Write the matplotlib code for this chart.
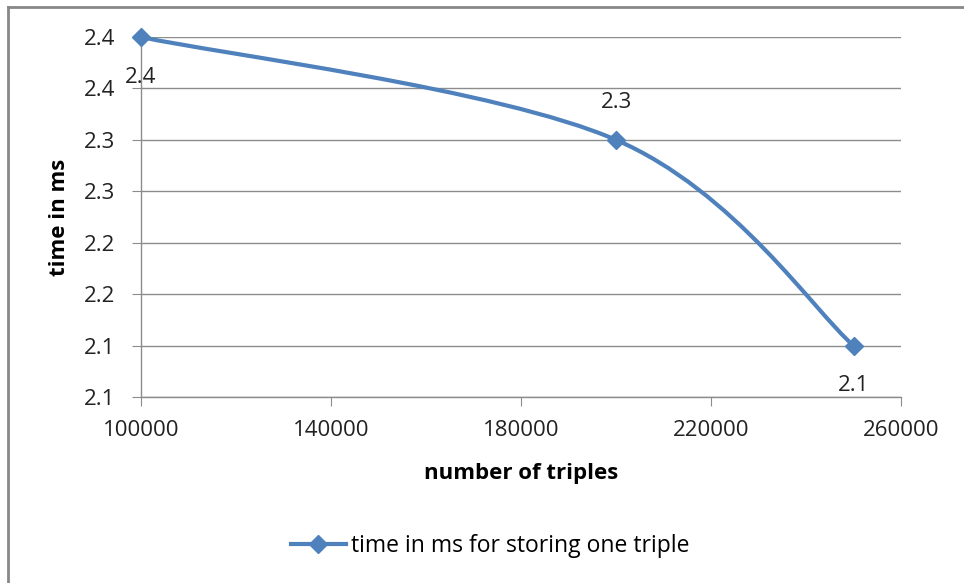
import matplotlib.pyplot as plt
from matplotlib.path import Path
from matplotlib.patches import PathPatch
from matplotlib.lines import Line2D

plt.rcParams['font.family'] = ['Open Sans', 'DejaVu Sans']

# data
triples = [100000, 200000, 250000]
time_ms = [2.4, 2.3, 2.1]
label_pos = ['below', 'above', 'below']

y_ticks = [2.05, 2.1, 2.15, 2.2, 2.25, 2.3, 2.35, 2.4]
y_labels = ['2.1', '2.1', '2.2', '2.2', '2.3', '2.3', '2.4', '2.4']
x_ticks = [100000, 140000, 180000, 220000, 260000]

blue = '#4F81BD'
grid_c = '#8C8C8C'

fig = plt.figure(figsize=(9.64, 5.83), dpi=100)
ax = fig.add_axes([141/964, 1-397/583, 760/964, 360/583])

# smoothed line like excel (bezier, tension 1/6)
pts = list(zip(triples, time_ms))
verts = [pts[0]]
codes = [Path.MOVETO]
n = len(pts)
for i in range(n - 1):
    p0 = pts[max(i-1, 0)]
    p1 = pts[i]
    p2 = pts[i+1]
    p3 = pts[min(i+2, n-1)]
    c1 = (p1[0] + (p2[0]-p0[0])/6, p1[1] + (p2[1]-p0[1])/6)
    c2 = (p2[0] - (p3[0]-p1[0])/6, p2[1] - (p3[1]-p1[1])/6)
    verts += [c1, c2, p2]
    codes += [Path.CURVE4]*3
ax.add_patch(PathPatch(Path(verts, codes), fill=False, edgecolor=blue,
                       lw=3, capstyle='round', zorder=3, clip_on=False))
ax.plot(triples, time_ms, ls='none', marker='D', ms=9.5, color=blue, zorder=4,
        clip_on=False)

for x, y, pos in zip(triples, time_ms, label_pos):
    dy = -40 if pos == 'below' else 37
    ax.annotate('%.1f' % y, (x, y), xytext=(0, dy*0.72), textcoords='offset points',
                ha='center', va='center', fontsize=16, color='#222222')

ax.set_xlim(100000, 260000)
ax.set_ylim(2.05, 2.4)
ax.set_xticks(x_ticks)
ax.set_xticklabels([str(t) for t in x_ticks])
ax.set_yticks(y_ticks)
ax.set_yticklabels(y_labels)
ax.grid(axis='y', color=grid_c, lw=1)
ax.set_axisbelow(True)
for s in ['top', 'right']:
    ax.spines[s].set_visible(False)
for s in ['left', 'bottom']:
    ax.spines[s].set_color(grid_c)
    ax.spines[s].set_linewidth(1)
ax.tick_params(axis='both', direction='out', length=6.5, color=grid_c,
               labelsize=16, colors='#222222')
ax.tick_params(axis='y', pad=12)
ax.tick_params(axis='x', pad=10)

ax.set_xlabel('number of triples', fontsize=16, fontweight='bold', labelpad=16)
ax.set_ylabel('time in ms', fontsize=16, fontweight='bold', labelpad=10)

h = Line2D([], [], color=blue, lw=3, marker='D', ms=9.5)
fig.legend([h], ['time in ms for storing one triple'], loc='center',
           bbox_to_anchor=(490/964, 1-546/583), frameon=False, fontsize=16.5,
           handlelength=2.4, handletextpad=0.2)

# outer chart frame (top and left visible)
fig.add_artist(Line2D([8/964, 1], [1-7/583, 1-7/583], color='#888888', lw=2))
fig.add_artist(Line2D([8/964, 8/964], [0, 1-7/583], color='#888888', lw=2))

fig.savefig('out.png', dpi=100)
